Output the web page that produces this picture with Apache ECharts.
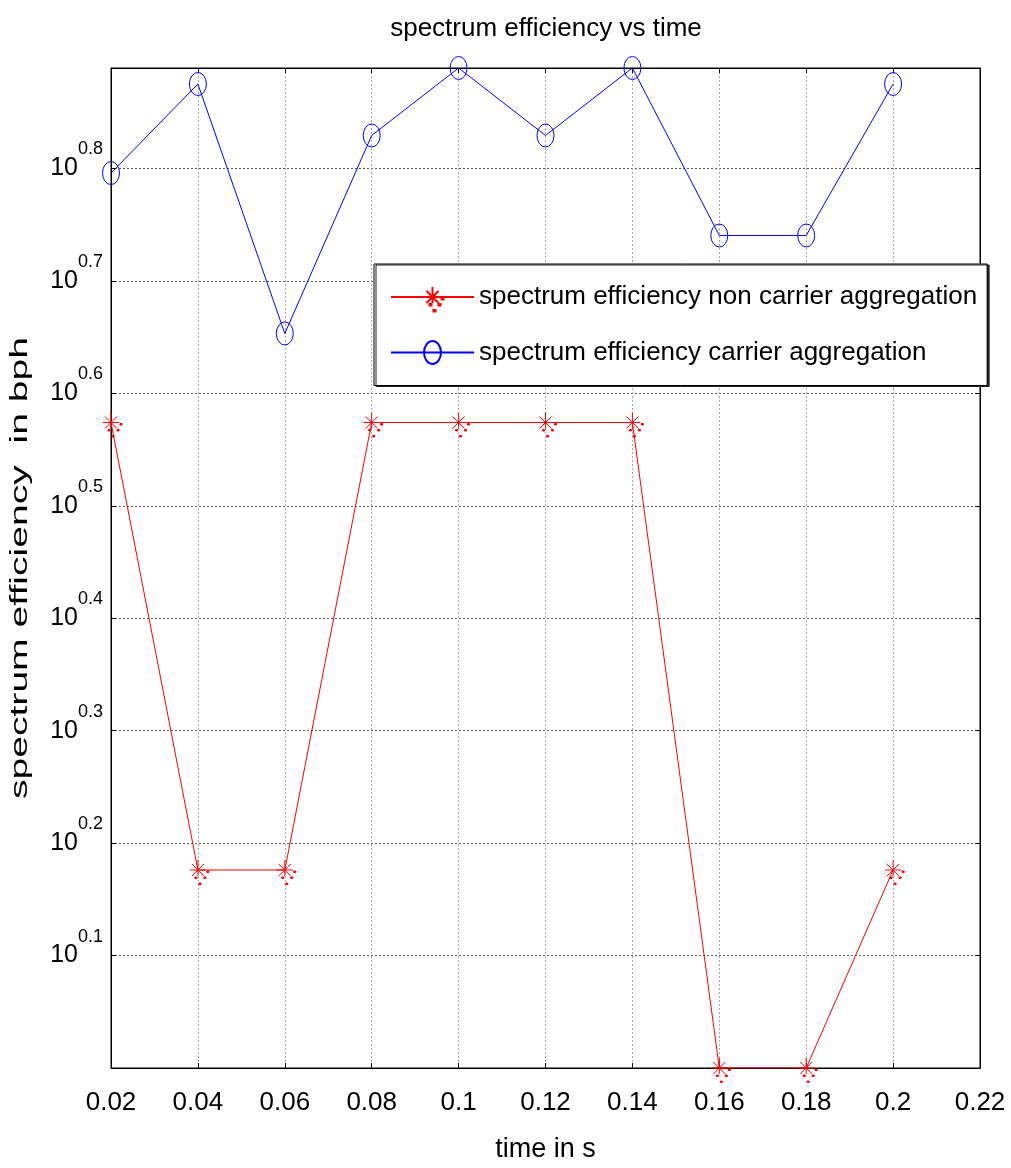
<!DOCTYPE html>
<html>
<head>
<meta charset="utf-8">
<script src="https://cdn.jsdelivr.net/npm/echarts@6/dist/echarts.min.js"></script>
<style>
html,body{margin:0;padding:0;background:#fff;}
#chart{width:1011px;height:1168px;}
</style>
</head>
<body>
<div id="chart"></div>
<script>
// ---- data ----
var timeValues = [0.02, 0.04, 0.06, 0.08, 0.1, 0.12, 0.14, 0.16, 0.18, 0.2];
var nonCarrierAgg = [3.75, 1.5, 1.5, 3.75, 3.75, 3.75, 3.75, 1.0, 1.0, 1.5];
var carrierAgg = [6.25, 7.5, 4.5, 6.75, 7.75, 6.75, 7.75, 5.5, 5.5, 7.5];
var seriesNames = ['spectrum efficiency non carrier aggregation', 'spectrum efficiency carrier aggregation'];
var yExponentTicks = [0.1, 0.2, 0.3, 0.4, 0.5, 0.6, 0.7, 0.8];
var titleText = 'spectrum efficiency vs time';
var xTitle = 'time in s';
var yTitle = 'spectrum efficiency  in bph';

var FONT = "'Liberation Sans', Arial, sans-serif";
var LOGBASE = Math.pow(10, 0.1);

function pairs(xs, ys) { return xs.map(function (x, i) { return [x, ys[i]]; }); }

// symbols drawn in a 30x30 px box (dummy moveTo points fix the box so the scale is 1:1)
var BOX = 'M-15,-15M15,15';
var asterisk = 'path://' + BOX +
  'M0,-10L0,6M-8,0L8,0M-6,-6L6,6M-6,6L6,-6' +
  'M9,1L11,1L11,2.5L9,2.5Z' +
  'M6,7L8,7L8,8.5L6,8.5Z' +
  'M-3,7L-1,7L-1,8.5L-3,8.5Z' +
  'M1,13L3,13L3,14.5L1,14.5Z';
var ellipse = 'path://' + BOX + 'M0,-11.5A8.5,11.5,0,1,1,0,11.5A8.5,11.5,0,1,1,0,-11.5Z';

var chart = echarts.init(document.getElementById('chart'), null, {renderer: 'canvas'});
var yLabelFmt = function (v) {
  var e = Math.log10(v);
  var r = Math.round(e * 10) / 10;
  if (Math.abs(e - r) > 0.01) return '';
  var ok = yExponentTicks.some(function (t) { return Math.abs(t - r) < 1e-6; });
  if (!ok) return '';
  return '{b|10}{s|' + r.toFixed(1) + '}';
};
chart.setOption({
  backgroundColor: '#fff',
  animation: false,
  title: {
    text: titleText,
    left: 541,
    top: 11,
    textAlign: 'center',
    textStyle: {fontFamily: FONT, fontSize: 26, fontWeight: 'normal', color: '#000'}
  },
  grid: {left: 111, right: 31, top: 68, bottom: 100, containLabel: false, outerBoundsMode: 'none',
    show: true, borderColor: '#000', borderWidth: 1, backgroundColor: '#fff'},
  legend: {
    orient: 'vertical',
    left: 374,
    top: 264,
    padding: [17, 10, 17, 16],
    itemGap: 23.5,
    itemWidth: 83,
    itemHeight: 37.5,
    backgroundColor: '#fff',
    borderColor: '#000',
    borderWidth: 1,
    shadowColor: '#222',
    shadowOffsetX: 2,
    shadowOffsetY: 1,
    shadowBlur: 0,
    textStyle: {fontFamily: FONT, fontSize: 26, color: '#000'},
    data: seriesNames
  },
  xAxis: [{
    type: 'value',
    min: 0.02, max: 0.22, interval: 0.02,
    name: xTitle,
    nameLocation: 'middle',
    nameGap: 68,
    nameTextStyle: {fontFamily: FONT, fontSize: 27, color: '#000'},
    axisLine: {show: true, lineStyle: {color: '#000', width: 1}},
    axisTick: {show: true, inside: true, length: 5, lineStyle: {color: '#000'}},
    axisLabel: {fontFamily: FONT, fontSize: 26, color: '#000', margin: 22,
      formatter: function (v) { return String(+v.toFixed(2)); }},
    splitLine: {show: true, lineStyle: {color: '#a8a8a8', type: [2, 2], width: 1}}
  }, {
    type: 'value', position: 'top',
    min: 0.02, max: 0.22, interval: 0.02,
    axisLine: {show: true, lineStyle: {color: '#000', width: 1}},
    axisTick: {show: true, inside: true, length: 5, lineStyle: {color: '#000'}},
    axisLabel: {show: false},
    splitLine: {show: false}
  }],
  yAxis: [{
    type: 'log',
    logBase: LOGBASE,
    min: 1, max: 7.75,
    axisLine: {show: true, lineStyle: {color: '#000', width: 1}},
    axisTick: {show: true, inside: true, length: 5, lineStyle: {color: '#000'}},
    minorTick: {show: false},
    axisLabel: {
      margin: 8,
      showMinLabel: false,
      showMaxLabel: false,
      formatter: yLabelFmt,
      rich: {
        b: {fontFamily: FONT, fontSize: 25, color: '#000', lineHeight: 56, verticalAlign: 'middle'},
        s: {fontFamily: FONT, fontSize: 18, color: '#000', lineHeight: 18, verticalAlign: 'top'}
      }
    },
    splitLine: {show: true, lineStyle: {color: '#5a5a5a', type: [2, 2], width: 1}}
  }, {
    type: 'log', position: 'right',
    logBase: LOGBASE,
    min: 1, max: 7.75,
    axisLine: {show: true, lineStyle: {color: '#000', width: 1}},
    axisTick: {show: true, inside: true, length: 5, lineStyle: {color: '#000'}},
    axisLabel: {show: false},
    splitLine: {show: false}
  }],
  graphic: [{
    type: 'text',
    x: 21, y: 568,
    rotation: Math.PI / 2,
    scaleX: 1.7,
    style: {text: yTitle, fontFamily: FONT, fontSize: 23, fill: '#000', align: 'center', verticalAlign: 'middle'}
  }],
  series: [{
    name: seriesNames[0],
    type: 'line',
    xAxisIndex: 0, yAxisIndex: 0,
    data: pairs(timeValues, nonCarrierAgg),
    symbol: asterisk,
    symbolSize: 30,
    showAllSymbol: true,
    lineStyle: {color: '#ff0000', width: 1},
    itemStyle: {color: '#ff0000', borderColor: '#ff0000', borderWidth: 1},
    z: 3
  }, {
    name: seriesNames[1],
    type: 'line',
    xAxisIndex: 0, yAxisIndex: 0,
    data: pairs(timeValues, carrierAgg),
    symbol: ellipse,
    symbolSize: 30,
    showAllSymbol: true,
    lineStyle: {color: '#0000ff', width: 1},
    itemStyle: {color: 'rgba(0,0,0,0)', borderColor: '#0000ff', borderWidth: 1},
    z: 3
  }]
});
</script>
</body>
</html>
